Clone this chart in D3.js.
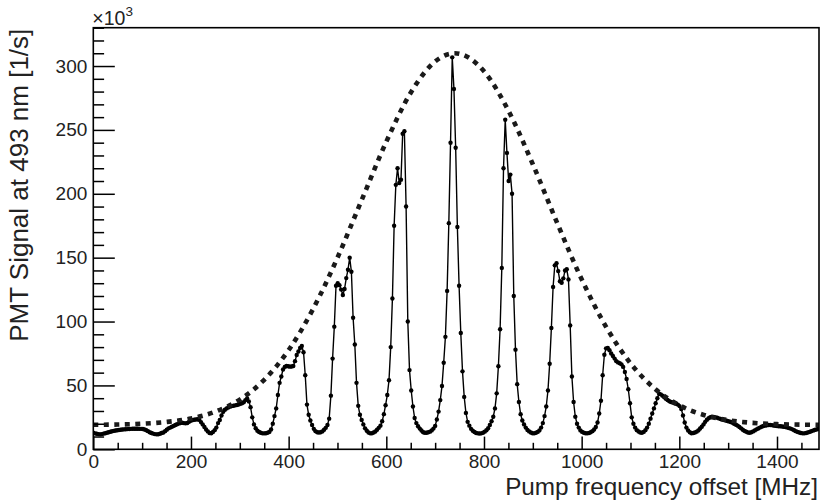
<!DOCTYPE html>
<html><head><meta charset="utf-8">
<script src="https://cdn.jsdelivr.net/npm/d3@7"></script>
<style>
html,body{margin:0;padding:0;background:#fff;}
svg{display:block;}
text{font-family:"Liberation Sans",Arial,Helvetica,sans-serif;fill:#222;}
</style></head>
<body>
<svg id="chart" width="821" height="504"></svg>
<script>
// Pump frequency offset [MHz]
const freq = [
0,3.5,7,10.5,14,17.5,21,24.5,28,31.5,
35,38.5,42,45.5,49,52.5,56,59.5,63,66.5,
70,73.5,77,80.5,84,87.5,91,94.5,98,101.5,
105,108.5,112,115.5,119,122.5,126,129.5,133,136.5,
140,143.5,147,150.5,154,157.5,161,164.5,168,171.5,
175,178.5,182,185.5,189,192.5,196,199.5,203,206.5,
210,213.5,217,220.5,224,227.5,231,234.5,238,241.5,
245,248.5,252,255.5,259,262.5,266,269.5,273,276.5,
280,283.5,287,290.5,294,297.5,301,304.5,308,311.5,
315,318.5,322,325.5,329,332.5,336,339.5,343,346.5,
350,353.5,357,360.5,364,367.5,371,374.5,378,381.5,
385,388.5,392,395.5,399,402.5,406,409.5,413,416.5,
420,423.5,427,430.5,434,437.5,441,444.5,448,451.5,
455,458.5,462,465.5,469,472.5,476,479.5,483,486.5,
490,493.5,497,500.5,504,507.5,511,514.5,518,521.5,
525,528.5,532,535.5,539,542.5,546,549.5,553,556.5,
560,563.5,567,570.5,574,577.5,581,584.5,588,591.5,
595,598.5,602,605.5,609,612.5,616,619.5,623,626.5,
630,633.5,637,640.5,644,647.5,651,654.5,658,661.5,
665,668.5,672,675.5,679,682.5,686,689.5,693,696.5,
700,703.5,707,710.5,714,717.5,721,724.5,728,731.5,
735,738.5,742,745.5,749,752.5,756,759.5,763,766.5,
770,773.5,777,780.5,784,787.5,791,794.5,798,801.5,
805,808.5,812,815.5,819,822.5,826,829.5,833,836.5,
840,843.5,847,850.5,854,857.5,861,864.5,868,871.5,
875,878.5,882,885.5,889,892.5,896,899.5,903,906.5,
910,913.5,917,920.5,924,927.5,931,934.5,938,941.5,
945,948.5,952,955.5,959,962.5,966,969.5,973,976.5,
980,983.5,987,990.5,994,997.5,1001,1004.5,1008,1011.5,
1015,1018.5,1022,1025.5,1029,1032.5,1036,1039.5,1043,1046.5,
1050,1053.5,1057,1060.5,1064,1067.5,1071,1074.5,1078,1081.5,
1085,1088.5,1092,1095.5,1099,1102.5,1106,1109.5,1113,1116.5,
1120,1123.5,1127,1130.5,1134,1137.5,1141,1144.5,1148,1151.5,
1155,1158.5,1162,1165.5,1169,1172.5,1176,1179.5,1183,1186.5,
1190,1193.5,1197,1200.5,1204,1207.5,1211,1214.5,1218,1221.5,
1225,1228.5,1232,1235.5,1239,1242.5,1246,1249.5,1253,1256.5,
1260,1263.5,1267,1270.5,1274,1277.5,1281,1284.5,1288,1291.5,
1295,1298.5,1302,1305.5,1309,1312.5,1316,1319.5,1323,1326.5,
1330,1333.5,1337,1340.5,1344,1347.5,1351,1354.5,1358,1361.5,
1365,1368.5,1372,1375.5,1379,1382.5,1386,1389.5,1393,1396.5,
1400,1403.5,1407,1410.5,1414,1417.5,1421,1424.5,1428,1431.5,
1435,1438.5,1442,1445.5,1449,1452.5,1456,1459.5,1463,1466.5,
1470,1473.5,1477,1480.5,1484,1487.5
];
// PMT signal at 493 nm, in units of 10^3 /s
const signal = [
13,12.5,12.2,11.9,11.7,11.9,12.3,12.6,12.9,13.3,
13.7,14.1,14.4,14.7,14.9,15.1,15.3,15.5,15.6,15.7,
15.8,15.9,16.0,16.1,16.1,16.1,16.1,16.0,16.0,15.9,
15.5,14.9,14.2,13.4,12.8,12.3,11.9,11.7,11.8,12.2,
12.7,13.2,14.2,15.4,16.4,17.0,17.7,18.3,19.0,19.6,
20.1,20.6,20.8,20.5,20.3,20.6,21.5,22.3,22.8,23.1,
23.3,23.5,23.0,21.3,19.5,17.5,15.5,14.0,12.8,12.6,
13.5,15.0,17.0,20.5,22.9,26.5,29.4,31.0,32.0,32.8,
33.4,33.8,34.1,34.4,34.7,35.1,35.6,36.1,36.8,38.5,
39.8,37.5,33,25,19.5,16.5,14.5,13.5,12.9,12.5,
12.5,12.6,13.0,13.6,15.5,20,26,32,42.5,52,
57,62.5,64.5,65.2,65.0,64.7,64.8,65.2,69,73.8,
76.5,79.3,80.8,76,58,35,27,22.5,19,16,
14.2,13.3,13.1,13.4,14.0,15.3,16.8,19,24,42,
71,96,128,130,128.5,125,120.8,125.5,134,140.5,
150,139,103,82,52,34,27,23,19.5,16.4,
14.5,13.2,12.5,12.6,13.2,13.9,15.3,16.8,18.5,22,
27.5,34.5,42.5,54,80,118,175,207,220,208.5,
211,247,249,190,100,62,46,33.5,24.5,20.5,
18,16.2,14.7,13.4,13,13,13.3,13.8,14.8,16.2,
18.3,23.3,29.5,38.5,49.5,67.8,88,124,177,240,
306.8,282,236,174,128,91,61,41,28.5,21.5,
18.5,16,14.5,13.5,12.8,12.5,12.4,12.5,13,13.8,
14.9,16.5,19,22,25.5,32,43.8,65,94,142,
220,258,232,210,215,200,120,78,51,37,
27.5,22.5,19.5,17,15.1,14,13.1,12.6,12.5,12.9,
13.6,14.8,17,20.5,26,33.5,46,67,95,127,
144,145.6,139.5,131.5,130.4,133.8,140,140.9,133,97,
57,37,25.5,20,17,14.8,13.6,12.9,12.6,12.5,
12.8,13.4,14.2,15.5,17.5,21,28,38,58,74,
79,79.3,77.5,75,73,71,69,68,67.3,66.5,
64.5,60.5,55,47,36,25,20,17,15,13.9,
13.2,13,13.6,15,17,20,24,28,32,36,
40,43.5,43,42,40.7,39.6,38.6,37.6,37,36.6,
36.1,35.6,35,33.8,31.5,26.5,21,17,14.8,13.3,
12.6,12.7,13.2,13.8,14.8,16.3,17.7,19.5,21.5,23.1,
24.3,25.1,25.5,25.3,25,24.7,24.2,23.7,23.2,22.9,
22.5,22.1,21.8,21.4,20.7,19.9,19.2,18.5,17.5,16.4,
15.3,14.4,13.7,13.2,13,13.3,14,14.8,15.6,16.3,
17,17.6,18.2,18.5,18.8,19,19,18.9,18.6,18.4,
18.2,18.1,18,17.8,17.7,17.4,17,16.6,16.2,15.6,
14.9,14.2,13.6,13.1,12.8,12.5,12.5,12.7,13.1,13.6,
14.1,14.6,15.1,15.5,15.9,16.4
];
// Envelope (dashed)
const fitFreq = [0,50,100,150,200,250,300,350,400,450,500,550,600,650,700,740,800,850,900,950,1000,1050,1100,1150,1200,1250,1300,1350,1400,1450,1500];
const fitSignal = [19.2,19.4,20.0,21.4,24.1,29.5,38.9,54.4,77.7,109.8,150.0,195.5,240.8,279.1,303.6,310,295.9,265.1,223.1,177.0,133.1,95.9,67.3,47.4,34.5,26.9,22.8,20.7,19.7,19.3,19.1];
const xMajorTicks = [0,200,400,600,800,1000,1200,1400];
const yMajorTicks = [0,50,100,150,200,250,300];
const xTitle = "Pump frequency offset [MHz]";
const yTitle = "PMT Signal at 493 nm [1/s]";

const svg = d3.select("#chart");
const L = 93.3, R = 819, T = 27.7, B = 449.3;
const x = d3.scaleLinear().domain([0, 1486]).range([L, R]);
const y = d3.scaleLinear().domain([0, 330]).range([B, T]);

svg.append("defs").append("clipPath").attr("id","clip")
  .append("rect").attr("x",L).attr("y",T).attr("width",R-L).attr("height",B-T);

const pts = freq.map((f,i)=>({f, s: signal[i]}));
const gData = svg.append("g").attr("clip-path","url(#clip)");
gData.append("path").datum(pts)
  .attr("fill","none").attr("stroke","#000").attr("stroke-width",1.4)
  .attr("d", d3.line().x(d=>x(d.f)).y(d=>y(d.s)));
gData.selectAll("circle").data(pts).join("circle")
  .attr("cx",d=>x(d.f)).attr("cy",d=>y(d.s)).attr("r",2.2).attr("fill","#000");

const fitPts = fitFreq.map((f,i)=>({f, s: fitSignal[i]}));
gData.append("path").datum(fitPts)
  .attr("fill","none").attr("stroke","#1a1a1a").attr("stroke-width",4.6)
  .attr("stroke-dasharray","5,5.5")
  .attr("d", d3.line().curve(d3.curveMonotoneX).x(d=>x(d.f)).y(d=>y(d.s)));

// frame
svg.append("rect").attr("x",L).attr("y",T).attr("width",R-L).attr("height",B-T)
  .attr("fill","none").attr("stroke","#000").attr("stroke-width",1.6);

// x axis
const xMinor = d3.range(0, 1486, 50).filter(v => !xMajorTicks.includes(v));
const gx = svg.append("g").attr("transform",`translate(0,${B})`);
gx.call(d3.axisBottom(x).tickValues(xMajorTicks).tickSize(-12.7).tickPadding(5.5).tickFormat(d3.format("d")));
const gxm = svg.append("g").attr("transform",`translate(0,${B})`);
gxm.call(d3.axisBottom(x).tickValues(xMinor).tickSize(-6.5).tickFormat(""));
// y axis
const yMinor = d3.range(0, 331, 10).filter(v => !yMajorTicks.includes(v));
const gy = svg.append("g").attr("transform",`translate(${L},0)`);
gy.call(d3.axisLeft(y).tickValues(yMajorTicks).tickSize(-21.5).tickPadding(6).tickFormat(d3.format("d")));
const gym = svg.append("g").attr("transform",`translate(${L},0)`);
gym.call(d3.axisLeft(y).tickValues(yMinor).tickSize(-10.8).tickFormat(""));

[gx,gxm,gy,gym].forEach(g=>{
  g.select(".domain").remove();
  g.selectAll(".tick line").attr("stroke","#000").attr("stroke-width",1.5);
  g.selectAll(".tick text").attr("font-size",19).attr("fill","#222")
    .attr("font-family",'"Liberation Sans",Arial,Helvetica,sans-serif');
});

// exponent label
const ex = svg.append("text").attr("x",L-1).attr("y",25).attr("font-size",19.5);
ex.append("tspan").text("\u00d710");
ex.append("tspan").attr("dy",-9).attr("font-size",13.5).text("3");

// titles
svg.append("text").attr("x",818).attr("y",495).attr("text-anchor","end")
  .attr("font-size",24.3).text(xTitle);
svg.append("text").attr("transform",`translate(28,${T+1}) rotate(-90)`)
  .attr("text-anchor","end").attr("font-size",26).text(yTitle);
</script>
</body></html>
